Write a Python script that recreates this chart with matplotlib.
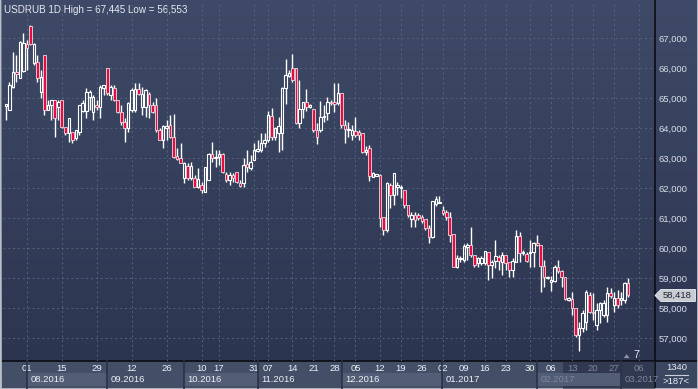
import matplotlib.pyplot as plt
import numpy as np
from matplotlib.patches import Rectangle, Polygon
from matplotlib.lines import Line2D

plt.rcParams['font.family'] = ['Liberation Sans', 'DejaVu Sans']

# daily USDRUB candles
opens = [64.73, 64.60, 65.37, 65.87, 65.67, 65.90, 66.80, 67.40, 66.17, 66.20,
         65.20, 66.43, 64.60, 64.77, 64.93, 64.70, 64.93, 64.03, 63.83, 63.87,
         63.67, 63.87, 64.57, 64.57, 65.03, 64.53, 64.77, 64.70, 65.33, 66.00,
         65.10, 65.33, 64.93, 64.53, 64.20, 64.00, 64.60, 64.60, 65.30, 64.70,
         64.70, 65.13, 64.77, 64.77, 63.93, 63.60, 64.00, 64.10, 63.70, 63.07,
         63.00, 62.33, 62.73, 62.33, 62.33, 62.03, 62.10, 61.87, 62.27, 63.13,
         63.00, 63.03, 63.13, 62.47, 62.27, 62.43, 62.53, 62.17, 62.17, 62.80,
         62.67, 62.93, 63.23, 63.27, 63.50, 63.60, 64.40, 63.70, 63.83, 63.83,
         65.33, 65.73, 66.00, 66.00, 64.17, 64.63, 64.87, 64.70, 64.63, 63.93,
         63.93, 64.37, 64.50, 64.87, 64.87, 64.83, 65.17, 64.10, 63.93, 63.77,
         63.90, 63.87, 63.83, 63.20, 63.33, 62.37, 62.40, 62.43, 61.03, 60.60,
         62.10, 61.77, 62.03, 62.00, 61.93, 61.43, 60.97, 61.10, 61.10, 61.03,
         60.97, 60.67, 60.37, 61.47, 61.50, 61.27, 61.20, 61.03, 60.47, 59.37,
         59.63, 59.60, 60.03, 60.10, 59.77, 59.50, 59.50, 59.50, 59.87, 59.43,
         59.57, 59.70, 59.53, 59.77, 59.53, 59.27, 59.53, 60.40, 59.83, 59.80,
         59.83, 59.87, 60.17, 60.10, 59.40, 59.00, 58.87, 58.90, 59.37, 59.23,
         59.03, 58.27, 58.30, 58.00, 57.10, 57.33, 57.53, 58.43, 57.87, 57.43,
         57.93, 57.77, 57.77, 58.50, 58.10, 58.33, 58.27, 58.27, 58.83]
highs = [64.80, 65.53, 66.53, 66.43, 66.90, 67.17, 66.93, 67.445, 66.82, 66.43,
         65.93, 66.43, 64.93, 64.93, 64.93, 64.93, 64.93, 64.03, 64.33, 63.87,
         63.93, 64.77, 64.93, 65.33, 65.27, 65.10, 64.93, 65.43, 65.43, 66.00,
         65.43, 65.43, 64.93, 64.77, 64.33, 64.87, 65.33, 65.50, 65.50, 65.37,
         65.30, 65.20, 64.87, 65.00, 64.00, 64.10, 64.27, 64.43, 64.47, 63.33,
         63.50, 62.87, 62.83, 62.87, 62.43, 62.67, 62.20, 62.70, 63.17, 63.53,
         63.27, 63.27, 63.17, 62.53, 62.53, 62.50, 62.53, 62.27, 63.00, 63.27,
         63.10, 63.50, 63.60, 63.83, 63.83, 64.57, 64.67, 64.03, 64.37, 65.37,
         66.30, 65.93, 66.47, 66.00, 65.60, 64.87, 65.30, 64.80, 64.63, 64.17,
         64.90, 64.77, 65.03, 64.93, 65.50, 65.50, 65.17, 64.27, 64.20, 64.10,
         64.37, 63.93, 63.83, 63.40, 63.43, 62.53, 62.47, 62.47, 61.03, 62.20,
         62.17, 62.50, 62.20, 62.10, 61.93, 61.43, 61.20, 61.20, 61.17, 61.10,
         60.97, 60.77, 61.57, 61.73, 61.73, 61.40, 61.27, 61.20, 60.47, 59.77,
         59.73, 60.13, 60.17, 60.70, 59.77, 59.70, 59.73, 59.90, 59.87, 59.60,
         60.27, 59.77, 59.87, 59.77, 59.53, 59.67, 60.60, 60.53, 59.93, 59.87,
         60.27, 60.20, 60.43, 60.10, 59.60, 59.07, 59.07, 59.43, 59.60, 59.27,
         59.03, 58.37, 58.53, 58.00, 57.53, 57.93, 58.60, 58.53, 58.50, 58.17,
         58.20, 58.27, 58.70, 58.67, 58.53, 58.60, 58.53, 58.87, 59.00]
lows = [64.27, 64.60, 65.33, 65.53, 65.67, 65.87, 65.93, 66.77, 66.10, 65.53,
        65.00, 64.43, 64.60, 64.27, 63.70, 64.27, 64.00, 63.77, 63.53, 63.50,
        63.60, 63.77, 64.53, 64.33, 64.60, 64.27, 64.60, 64.33, 65.10, 65.10,
        64.93, 64.90, 64.50, 64.10, 63.53, 63.87, 64.53, 64.53, 65.10, 64.43,
        64.37, 64.33, 64.50, 63.87, 63.60, 63.33, 63.60, 63.67, 63.00, 62.93,
        62.83, 62.17, 62.27, 62.27, 62.03, 62.00, 61.83, 61.87, 62.27, 62.87,
        62.70, 62.77, 62.50, 62.20, 62.10, 62.20, 62.17, 62.03, 62.03, 62.53,
        62.60, 62.93, 63.20, 63.20, 63.37, 63.53, 63.60, 63.60, 63.20, 63.27,
        64.80, 65.70, 65.53, 64.13, 64.00, 64.33, 64.57, 64.67, 63.87, 63.47,
        63.87, 64.20, 64.27, 64.77, 64.53, 64.77, 64.00, 63.50, 63.70, 63.60,
        63.70, 63.60, 63.17, 63.10, 62.23, 62.37, 62.40, 60.70, 60.43, 60.53,
        61.33, 61.43, 61.77, 61.67, 61.33, 61.03, 60.70, 60.70, 60.93, 60.83,
        60.60, 60.17, 60.33, 61.40, 61.50, 61.10, 60.93, 60.20, 59.37, 59.33,
        59.53, 59.53, 59.60, 59.70, 59.37, 59.37, 59.43, 59.43, 58.93, 59.00,
        59.33, 59.27, 59.10, 59.27, 59.03, 59.03, 59.53, 59.53, 59.77, 59.53,
        59.37, 59.37, 60.07, 58.53, 58.70, 58.97, 58.57, 58.87, 59.17, 58.70,
        58.27, 58.23, 57.77, 57.03, 56.553, 57.20, 57.27, 57.83, 57.60, 57.27,
        57.50, 57.70, 57.53, 58.33, 57.87, 58.00, 58.10, 58.17, 58.37]
closes = [64.80, 65.43, 65.87, 65.80, 66.87, 66.83, 66.67, 66.80, 66.80, 65.67,
          65.70, 64.60, 64.77, 64.93, 64.33, 64.87, 64.03, 63.83, 64.33, 63.60,
          63.93, 64.77, 64.83, 65.20, 65.20, 65.03, 64.70, 65.37, 65.43, 65.17,
          65.37, 64.93, 64.53, 64.20, 64.00, 64.83, 65.27, 65.30, 65.13, 65.13,
          65.27, 64.77, 64.53, 63.93, 63.60, 64.07, 64.07, 63.70, 63.03, 62.97,
          62.83, 62.83, 62.33, 62.73, 62.03, 62.30, 61.93, 62.70, 63.13, 63.00,
          63.03, 63.13, 62.53, 62.27, 62.43, 62.33, 62.20, 62.07, 62.77, 62.70,
          62.87, 63.27, 63.30, 63.50, 63.60, 64.43, 63.70, 64.00, 64.07, 65.33,
          65.77, 65.83, 65.60, 64.17, 64.63, 64.87, 64.70, 64.77, 63.93, 63.70,
          64.37, 64.40, 64.87, 64.83, 64.80, 65.17, 64.10, 63.97, 63.97, 63.93,
          63.77, 63.77, 63.20, 63.27, 62.40, 62.50, 62.47, 61.00, 60.60, 62.17,
          61.77, 62.50, 62.10, 62.03, 61.43, 61.10, 61.10, 60.93, 61.00, 60.90,
          60.67, 60.37, 61.57, 61.63, 61.53, 61.17, 61.03, 60.43, 59.37, 59.67,
          59.67, 60.07, 60.10, 59.77, 59.43, 59.67, 59.67, 59.90, 59.43, 59.53,
          59.73, 59.57, 59.77, 59.50, 59.27, 59.57, 60.40, 59.83, 59.87, 59.57,
          59.87, 60.17, 60.10, 59.40, 59.03, 59.03, 58.93, 59.37, 59.23, 59.03,
          58.30, 58.33, 58.00, 57.10, 57.33, 57.83, 58.53, 57.87, 57.83, 57.93,
          58.17, 58.17, 58.50, 58.40, 58.33, 58.10, 58.33, 58.83, 58.418]

price_ticks = [57, 58, 59, 60, 61, 62, 63, 64, 65, 66, 67]
# day labels and their candle index
day_pos = [6, 16, 26, 36, 46, 56, 61, 71, 75, 82, 88, 94, 100, 107, 113, 119,
           125, 131, 137, 143, 150, 156, 162, 168, 174, 181]
day_labels = ["01", "15", "29", "12", "26", "10", "17", "31", "07", "14", "21",
              "28", "05", "12", "19", "26", "02", "09", "16", "23", "30", "06",
              "13", "20", "27", "06"]
month_pos = [5.95, 28.9, 51.0, 72.1, 96.2, 124.7, 151.9, 176.0]
month_labels = ["08.2016", "09.2016", "10.2016", "11.2016", "12.2016",
                "01.2017", "02.2017", "03.2017"]

W, H = 698, 389
fig = plt.figure(figsize=(W / 100, H / 100), dpi=100)

# background in pixel coordinates
bg = fig.add_axes([0, 0, 1, 1], zorder=-1)
bg.set_xlim(0, W)
bg.set_ylim(H, 0)
bg.axis('off')
grad = np.linspace(0, 1, 256).reshape(-1, 1)
top = np.array([0x3e, 0x4a, 0x67]) / 255
bot = np.array([0x2c, 0x35, 0x50]) / 255
img = top + (bot - top) * grad[:, :, None]
bg.imshow(img, extent=(0, W, 361, 0), aspect='auto', interpolation='bilinear')
bg.add_patch(Rectangle((0, 361), W, 28, color='#434e67', lw=0))
bg.add_patch(Rectangle((655, 361), 43, 28, color='#3b4660', lw=0))
bg.add_patch(Rectangle((563, 361), 92, 28, color='#1f2638', alpha=0.5, lw=0, zorder=5))
bg.add_line(Line2D([0, W], [361, 361], color='#0b0d12', lw=1.2))
bg.add_line(Line2D([655, 655], [0, H], color='#0b0d12', lw=1.2))
bg.add_line(Line2D([665, 688], [374.5, 374.5], color='#c9cfdb', lw=0.8))
for side in ([0, 0.5], [W - 0.5, W - 0.5]):
    bg.add_line(Line2D(side, [0, H], color='#b9bec8', lw=2))
bg.add_line(Line2D([0, W], [H - 0.5, H - 0.5], color='#b9bec8', lw=2))
bg.text(676.5, 367.5, "1340", color='#e8ecf3', fontsize=6.8, ha='center', va='center')
bg.text(676.5, 381, ">187<", color='#e8ecf3', fontsize=6.8, ha='center', va='center')
bg.text(4, 9.5, "USDRUB 1D High = 67,445 Low = 56,553", color='#e6e9f0',
        fontsize=7.1, ha='left', va='center')

ax = fig.add_axes([3 / W, 28 / H, 652 / W, 358 / H])
ax.patch.set_alpha(0)
for s in ax.spines.values():
    s.set_visible(False)

o = np.array(opens)
h = np.array(highs)
l = np.array(lows)
c = np.array(closes)
x = np.arange(len(o))
up = c >= o
lo_b = np.minimum(o, c)
hi_b = np.maximum(o, c)
hgt = np.maximum(hi_b - lo_b, 0.02)

ax.vlines(x, hi_b, h, color='white', lw=1, zorder=3)
ax.vlines(x, l, lo_b, color='white', lw=1, zorder=3)
ax.bar(x[up], hgt[up], bottom=lo_b[up], width=0.72, facecolor='none',
       edgecolor='white', linewidth=0.8, zorder=4)
ax.bar(x[~up], hgt[~up], bottom=lo_b[~up], width=0.75, facecolor='#ea0a40',
       edgecolor='white', linewidth=0.5, zorder=4)

ax.set_xlim(-0.815, 185.7)
ax.set_ylim(56.233, 68.167)

ax.yaxis.tick_right()
ax.set_yticks(price_ticks, [f"{v},000" for v in price_ticks])
ax.tick_params(axis='y', length=0, pad=2.5, labelsize=6.8, labelcolor='#d8deea')
ax.set_xticks(day_pos, day_labels)
ax.tick_params(axis='x', length=0, pad=2.2, labelsize=6.8, labelcolor='#eef1f6')
for i, t in enumerate(ax.get_xticklabels()):
    if day_pos[i] >= 160:
        t.set_color('#7d879c')
ax.set_axisbelow(True)
ax.grid(True, color='#56627e', linestyle=(0, (2, 3)), linewidth=0.7)

# month row under the day labels
tr = ax.get_xaxis_transform()
bounds = month_pos + [185.7]
for i, name in enumerate(month_labels):
    if i % 2 == 0:
        ax.add_patch(Rectangle((bounds[i], -0.0698), bounds[i + 1] - bounds[i], 0.0363,
                               transform=tr, color='#525d76', lw=0, clip_on=False))
    ax.add_line(Line2D([bounds[i], bounds[i]], [0, -0.078], transform=tr,
                       color='#2a3247', lw=1.2, clip_on=False))
    col = '#eef1f6' if i < 6 else '#7d879c'
    ax.text(bounds[i] + 1.0, -0.052, name, transform=tr, fontsize=6.8,
            color=col, ha='left', va='center', clip_on=False)

# last price marker
last = closes[-1]
ytr = ax.get_yaxis_transform()
ax.add_patch(Polygon([(1.0, last), (1.009, last + 0.2), (1.062, last + 0.2),
                      (1.062, last - 0.2), (1.009, last - 0.2)], closed=True,
                     transform=ytr, facecolor='#c9ccd3', edgecolor='#eceef2',
                     lw=0.6, clip_on=False, zorder=6))
ax.text(1.011, last, f"{last:.3f}".replace('.', ','), transform=ytr, fontsize=6.8,
        color='#1c2230', ha='left', va='center', clip_on=False, zorder=7)

ax.add_patch(Polygon([(0.952, 0.008), (0.9566, 0.019), (0.9612, 0.008)], closed=True,
                     transform=ax.transAxes, facecolor='#8a92a6', lw=0))
ax.text(0.971, 0.017, "7", transform=ax.transAxes, fontsize=7.5, color='#e8ecf3',
        ha='center', va='center')

fig.savefig("out.png", dpi=100)
